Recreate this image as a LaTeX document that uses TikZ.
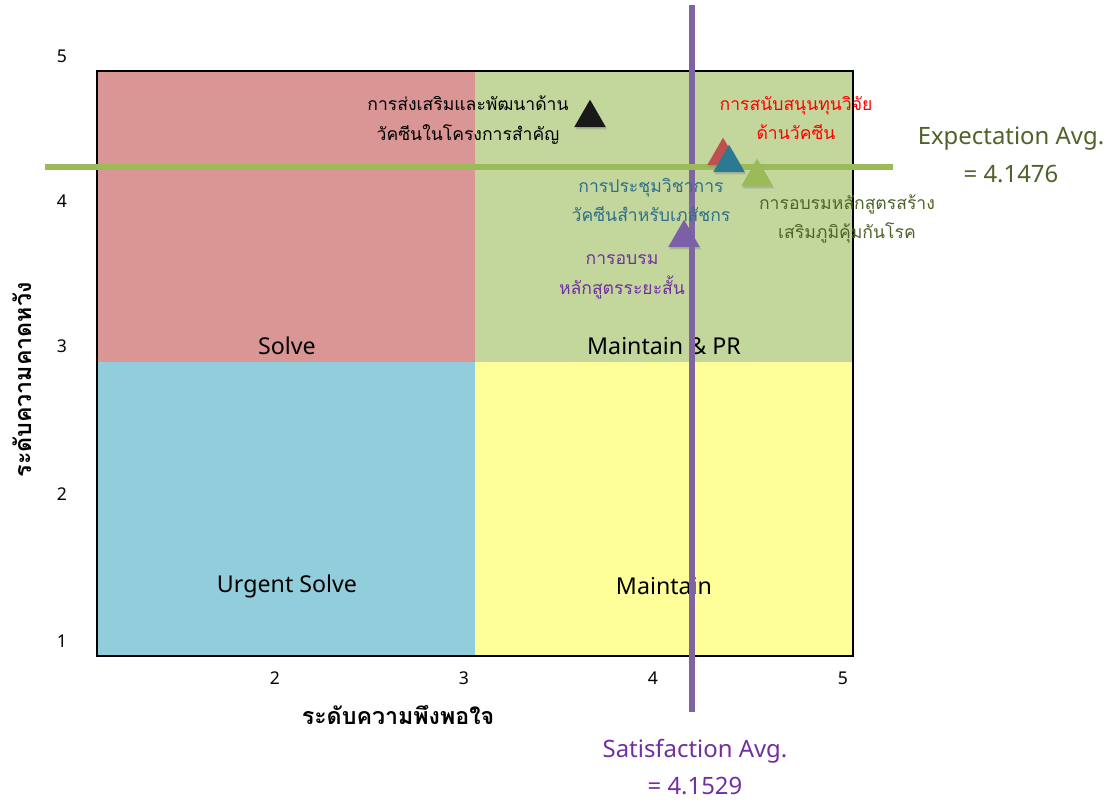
\documentclass[tikz,border=0pt]{standalone}
\usepackage{fontspec}
\setmainfont{Noto Sans}
\newfontfamily\thaifont[Script=Thai]{Loma}
\usetikzlibrary{shapes.geometric, shadows}
\definecolor{qred}{HTML}{D99694}
\definecolor{qgreen}{HTML}{C3D69B}
\definecolor{qblue}{HTML}{92CDDC}
\definecolor{qyellow}{HTML}{FFFF99}
\definecolor{satline}{HTML}{8064A2}
\definecolor{expline}{HTML}{9BBB59}
\definecolor{mkred}{HTML}{C0504D}
\definecolor{mkteal}{HTML}{2C7A92}
\definecolor{mkgreen}{HTML}{9BBB59}
\definecolor{mkpurple}{HTML}{7B5FA8}
\definecolor{txolive}{HTML}{4F6228}
\definecolor{txteal}{HTML}{2F6E8C}
\definecolor{txpurple}{HTML}{7030A0}

\begin{document}
\begin{tikzpicture}[
  x=0.025cm, y=-0.025cm,
  every node/.style={font=\fontsize{12.5}{14}\selectfont},
  quad/.style={font=\fontsize{16.5}{18}\selectfont},
  marker/.style={regular polygon, regular polygon sides=3, minimum size=26pt, inner sep=0pt, drop shadow={opacity=0.35, shadow xshift=1pt, shadow yshift=-1.5pt}},
  tlabel/.style={align=center, font=\thaifont\fontsize{12.5}{21}\selectfont},
  axistitle/.style={font=\thaifont\bfseries\fontsize{16.5}{19}\selectfont},
  avg/.style={align=center, font=\fontsize{17}{27}\selectfont},
]
\useasboundingbox (0,0) rectangle (1110,802);

% Quadrants
\fill[qred] (97,71) rectangle (475,362);
\fill[qgreen] (475,71) rectangle (853,362);
\fill[qblue] (97,362) rectangle (475,656);
\fill[qyellow] (475,362) rectangle (853,656);
\draw[line width=1.4pt] (97,71) rectangle (853,656);

\node[quad] (solve) at (287,346) {Solve};
\node[quad] (mpr) at (664,346) {Maintain \& PR};
\node[quad] (urgent) at (287,586) {Urgent Solve};
\node[quad] (maint) at (664,586) {Maintain};

% Tick labels
\foreach \v/\px in {2/275, 3/464, 4/653, 5/843}
  \node (xt\v) at (\px,678) {\v};
\foreach \v/\py in {5/56, 4/201, 3/346, 2/494, 1/641}
  \node (yt\v) at (62,\py) {\v};

% Axis titles
\node[axistitle] (xtitle) at (398,715) {ระดับความพึงพอใจ};
\node[axistitle, rotate=90] (ytitle) at (22,380) {ระดับความคาดหวัง};

% Average lines
\coordinate (satTop) at (692,5);
\coordinate (satBot) at (692,712);
\coordinate (expL) at (45,167);
\coordinate (expR) at (893,167);
\draw[satline, line width=3.6pt] (satTop) -- (satBot);
\draw[expline, line width=4.2pt] (expL) -- (expR);

% Markers
\node[marker, fill=black!90] (mkBlack) at (590,118) {};
\node[marker, fill=mkred] (mkRed) at (723,156) {};
\node[marker, fill=mkteal] (mkTeal) at (729,163) {};
\node[marker, fill=mkgreen] (mkGreen) at (757,177) {};
\node[marker, fill=mkpurple] (mkPurple) at (684,238) {};

% Marker labels
\node[tlabel] (lbBlack) at (468,120) {การส่งเสริมและพัฒนาด้าน\\วัคซีนในโครงการสำคัญ};
\node[tlabel, text=red] (lbRed) at (796,118) {การสนับสนุนทุนวิจัย\\ด้านวัคซีน};
\node[tlabel, text=txteal] (lbTeal) at (651,200) {การประชุมวิชาการ\\วัคซีนสำหรับเภสัชกร};
\node[tlabel, text=txolive] (lbGreen) at (847,219) {การอบรมหลักสูตรสร้าง\\เสริมภูมิคุ้มกันโรค};
\node[tlabel, text=txpurple] (lbPurple) at (622,277) {การอบรม\\หลักสูตรระยะสั้น};

% Averages
\node[avg, text=txolive] (expAvg) at (1011,155) {Expectation Avg.\\= 4.1476};
\node[avg, text=txpurple] (satAvg) at (695,767) {Satisfaction Avg.\\= 4.1529};

\end{tikzpicture}
\end{document}
